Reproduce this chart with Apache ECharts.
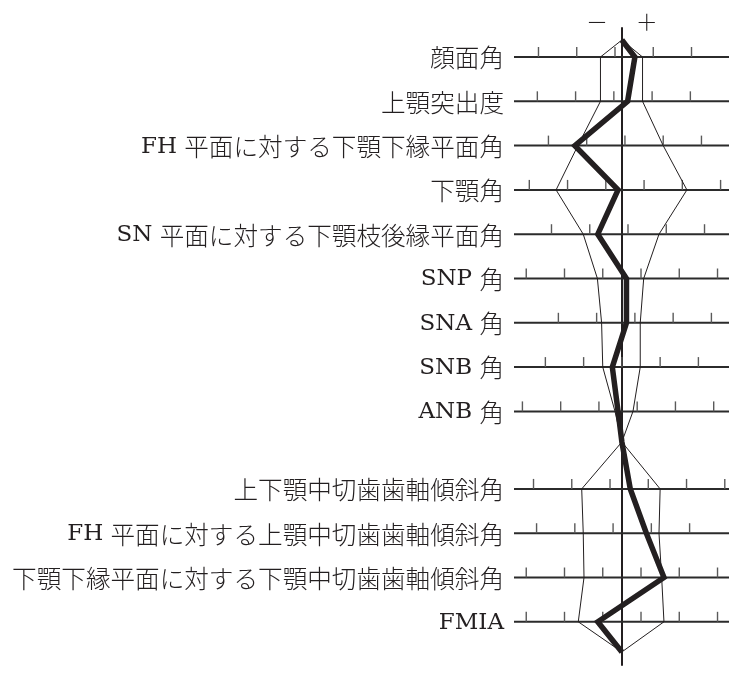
<!DOCTYPE html>
<html>
<head>
<meta charset="utf-8">
<script src="https://cdn.jsdelivr.net/npm/echarts@6/dist/echarts.min.js"></script>
<style>
html,body{margin:0;padding:0;background:#fff;}
#chart{width:742px;height:680px;}
</style>
</head>
<body>
<div id="chart"></div>
<script>
// ---- data (x in scale units: one tick = 1 unit, 0 = norm mean; y in row units) ----
const labels = [
  '顔面角',
  '上顎突出度',
  'FH 平面に対する下顎下縁平面角',
  '下顎角',
  'SN 平面に対する下顎枝後縁平面角',
  'SNP 角',
  'SNA 角',
  'SNB 角',
  'ANB 角',
  '上下顎中切歯歯軸傾斜角',
  'FH 平面に対する上顎中切歯歯軸傾斜角',
  '下顎下縁平面に対する下顎中切歯歯軸傾斜角',
  'FMIA'
];
const rowPos = [0, 1, 2, 3, 4, 5, 6, 7, 8, 9.75, 10.75, 11.75, 12.75];
const normMinus = [-0.56, -0.56, -1.15, -1.72, -1.01, -0.64, -0.53, -0.50, -0.18, -1.05, -1.01, -0.99, -1.14];
const normPlus  = [ 0.54,  0.54,  1.08,  1.70,  0.97,  0.57,  0.48,  0.48,  0.29,  1.00,  0.97,  1.04,  1.10];
const patient   = [ 0.34,  0.15, -1.23, -0.10, -0.63,  0.12,  0.12, -0.25, -0.10,  0.22,  0.64,  1.10, -0.63];
const tickMarks = [
  [-2.18, -1.18, -0.18, 0.82, 1.82],
  [-2.21, -1.21, -0.21, 0.79, 1.79],
  [-1.92, -0.92, 0.08, 1.08, 2.08],
  [-2.42, -1.42, -0.42, 0.58, 1.58, 2.58],
  [-1.84, -0.84, 0.16, 1.16, 2.16],
  [-2.5, -1.5, -0.5, 0.5, 1.5, 2.5],
  [-1.66, -0.66, 0.34, 1.34, 2.34],
  [-2, -1, 0, 1, 2],
  [-2.6, -1.6, -0.6, 0.4, 1.4, 2.4],
  [-2.31, -1.31, -0.31, 0.69, 1.69, 2.69],
  [-2.23, -1.23, -0.23, 0.77, 1.77],
  [-2.5, -1.5, -0.5, 0.5, 1.5, 2.5],
  [-2.5, -1.5, -0.5, 0.5, 1.5, 2.5]
];
const apexTop = -0.384;     // upper closing point
const apexMid = 8.69;       // point between the two groups
const apexBottom = 13.43;   // lower closing point
const rowExtent = [-2.82, 2.80];
const signLabels = [[-0.65, -0.80, '－'], [0.65, -0.80, '＋']];

// ---- build polylines ----
function polyline(vals) {
  const pts = [[0, apexTop]];
  for (let i = 0; i < 9; i++) pts.push([vals[i], rowPos[i]]);
  pts.push([0, apexMid]);
  for (let i = 9; i < vals.length; i++) pts.push([vals[i], rowPos[i]]);
  pts.push([0, apexBottom]);
  return pts;
}
function toRich(s) {
  return s.match(/[A-Za-z ]+|[^A-Za-z ]+/g).map(function (t) {
    return /[A-Za-z]/.test(t) ? '{lat|' + t + '}' : '{jp|' + t + '}';
  }).join('');
}

const ink = '#231f20';

const chart = echarts.init(document.getElementById('chart'), null, {renderer: 'canvas'});
chart.setOption({
  backgroundColor: '#ffffff',
  animation: false,
  grid: {left: 514, top: 28, width: 215, height: 637, containLabel: false},
  xAxis: {
    type: 'value', min: rowExtent[0], max: rowExtent[1],
    show: false, splitLine: {show: false}
  },
  yAxis: {
    type: 'value', inverse: true, min: -0.655, max: 13.725,
    axisLine: {show: true, onZero: true, lineStyle: {color: ink, width: 2}},
    axisTick: {show: false}, axisLabel: {show: false}, splitLine: {show: false}
  },
  series: [
    {
      type: 'custom', name: 'rows', clip: false, z: 1,
      data: rowPos.map((y, i) => [i, y]),
      renderItem: function (params, api) {
        const i = api.value(0);
        const y = api.value(1);
        const p0 = api.coord([rowExtent[0], y]);
        const p1 = api.coord([rowExtent[1], y]);
        const children = [{
          type: 'line',
          shape: {x1: p0[0], y1: p0[1], x2: p1[0], y2: p1[1]},
          style: {stroke: '#2b2b2b', lineWidth: 2}
        }];
        tickMarks[i].forEach(function (t) {
          const q = api.coord([t, y]);
          children.push({
            type: 'line',
            shape: {x1: q[0], y1: q[1], x2: q[0], y2: q[1] - 10},
            style: {stroke: '#5a5a5a', lineWidth: 1.4}
          });
        });
        children.push({
          type: 'text',
          x: p0[0] - 10, y: p0[1] + 1,
          style: {
            text: toRich(labels[i]), align: 'right', verticalAlign: 'middle',
            fill: ink,
            rich: {
              lat: {fontSize: 23, fontFamily: '"DejaVu Serif",serif', fill: ink, verticalAlign: 'middle'},
              jp: {fontSize: 24.6, fontFamily: '"Noto Sans CJK JP",sans-serif', fontWeight: 300, fill: ink, verticalAlign: 'middle'}
            }
          }
        });
        return {type: 'group', children: children};
      }
    },
    {
      type: 'custom', name: 'signs', clip: false, z: 1,
      data: signLabels,
      renderItem: function (params, api) {
        const p = api.coord([api.value(0), api.value(1)]);
        return {
          type: 'text', x: p[0], y: p[1],
          style: {
            text: signLabels[params.dataIndex][2], align: 'center', verticalAlign: 'middle',
            fontSize: 22, fontFamily: '"Noto Sans CJK JP",sans-serif', fontWeight: 300, fill: ink
          }
        };
      }
    },
    {
      type: 'line', name: '-1SD', data: polyline(normMinus), symbol: 'none', z: 3,
      lineStyle: {color: ink, width: 1}
    },
    {
      type: 'line', name: '+1SD', data: polyline(normPlus), symbol: 'none', z: 3,
      lineStyle: {color: ink, width: 1}
    },
    {
      type: 'line', name: 'patient', data: polyline(patient), symbol: 'none', z: 4,
      lineStyle: {color: ink, width: 5.5, join: 'miter', miterLimit: 4}
    }
  ]
});
</script>
</body>
</html>
